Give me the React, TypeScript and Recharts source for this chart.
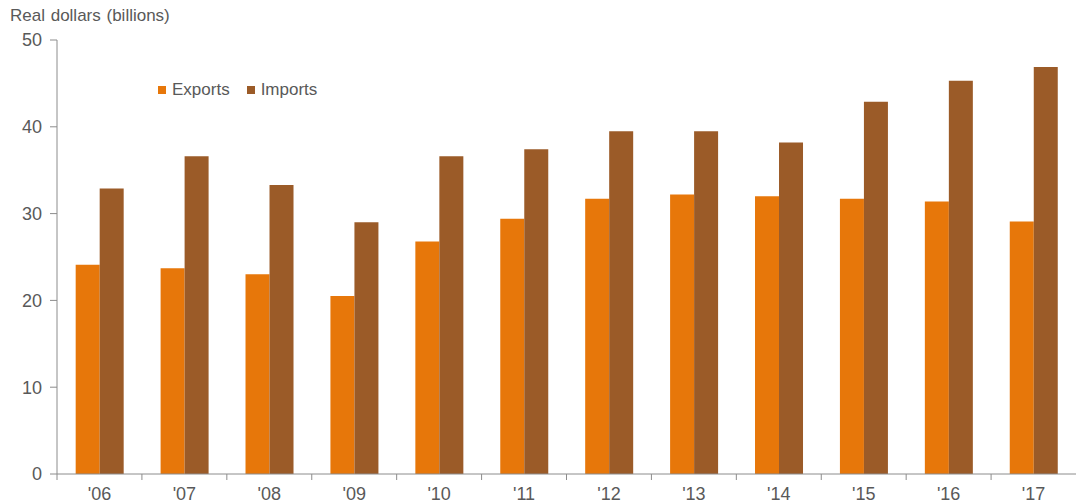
import React from "react";
import { BarChart, Bar, XAxis, YAxis } from "recharts";

const years = ["'06", "'07", "'08", "'09", "'10", "'11", "'12", "'13", "'14", "'15", "'16", "'17"];
const exportsVals = [24.1, 23.7, 23.0, 20.5, 26.8, 29.4, 31.7, 32.2, 32.0, 31.7, 31.4, 29.1];
const importsVals = [32.9, 36.6, 33.3, 29.0, 36.6, 37.4, 39.5, 39.5, 38.2, 42.9, 45.3, 46.9];
const yTicks = [0, 10, 20, 30, 40, 50];
const seriesNames = ["Exports", "Imports"];
const seriesColors = ["#E7770A", "#9B5B28"];

const data = years.map((y, i) => ({ year: y, Exports: exportsVals[i], Imports: importsVals[i] }));

const W = 1077;
const H = 504;
const LEFT = 57;
const RIGHT = 1;
const BAND = (W - LEFT - RIGHT) / years.length;
const TEXT = "#595959";
const AXIS = "#8c8c8c";
const FONT = "'Liberation Sans', Arial, sans-serif";

const XTick = (props: any) => {
  const { x, y, payload } = props;
  const lx = x - BAND / 2;
  return (
    <g>
      <line x1={lx} y1={y} x2={lx} y2={y + 6} stroke={AXIS} strokeWidth={1} />
      <text x={x} y={y + 26} textAnchor="middle" fill={TEXT} fontSize={18} fontFamily={FONT}>
        {payload.value}
      </text>
    </g>
  );
};

export default function App() {
  return (
    <div style={{ position: "absolute", left: 0, top: 0, width: W, height: H, background: "#fff" }}>
      <div
        style={{
          position: "absolute",
          left: 10,
          top: 4,
          fontSize: 17,
          lineHeight: "24px",
          fontFamily: FONT,
          color: TEXT,
          wordSpacing: 1,
          whiteSpace: "nowrap",
        }}
      >
        Real dollars (billions)
      </div>
      <div
        style={{
          position: "absolute",
          left: 158,
          top: 80,
          display: "flex",
          alignItems: "center",
          fontFamily: FONT,
          fontSize: 17,
          lineHeight: "20px",
          color: TEXT,
          whiteSpace: "nowrap",
          zIndex: 2,
        }}
      >
        {seriesNames.map((n, i) => (
          <div key={n} style={{ display: "flex", alignItems: "center", marginRight: 17 }}>
            <span style={{ display: "inline-block", width: 8, height: 8, background: seriesColors[i], marginRight: 6 }} />
            <span>{n}</span>
          </div>
        ))}
      </div>
      <BarChart
        width={W}
        height={H}
        data={data}
        margin={{ top: 40, right: RIGHT, bottom: 0, left: 0 }}
        barCategoryGap="22%"
        barGap={0}
      >
        <XAxis
          dataKey="year"
          height={30}
          stroke={AXIS}
          tickLine={false}
          tickSize={0}
          tickMargin={0}
          tick={<XTick />}
          interval={0}
        />
        <YAxis
          width={LEFT}
          domain={[0, 50]}
          ticks={yTicks}
          stroke={AXIS}
          tickSize={7}
          tickMargin={8}
          tick={{ fill: TEXT, fontSize: 18, fontFamily: FONT }}
        />
        <Bar dataKey="Exports" fill={seriesColors[0]} isAnimationActive={false} />
        <Bar dataKey="Imports" fill={seriesColors[1]} isAnimationActive={false} />
      </BarChart>
    </div>
  );
}
